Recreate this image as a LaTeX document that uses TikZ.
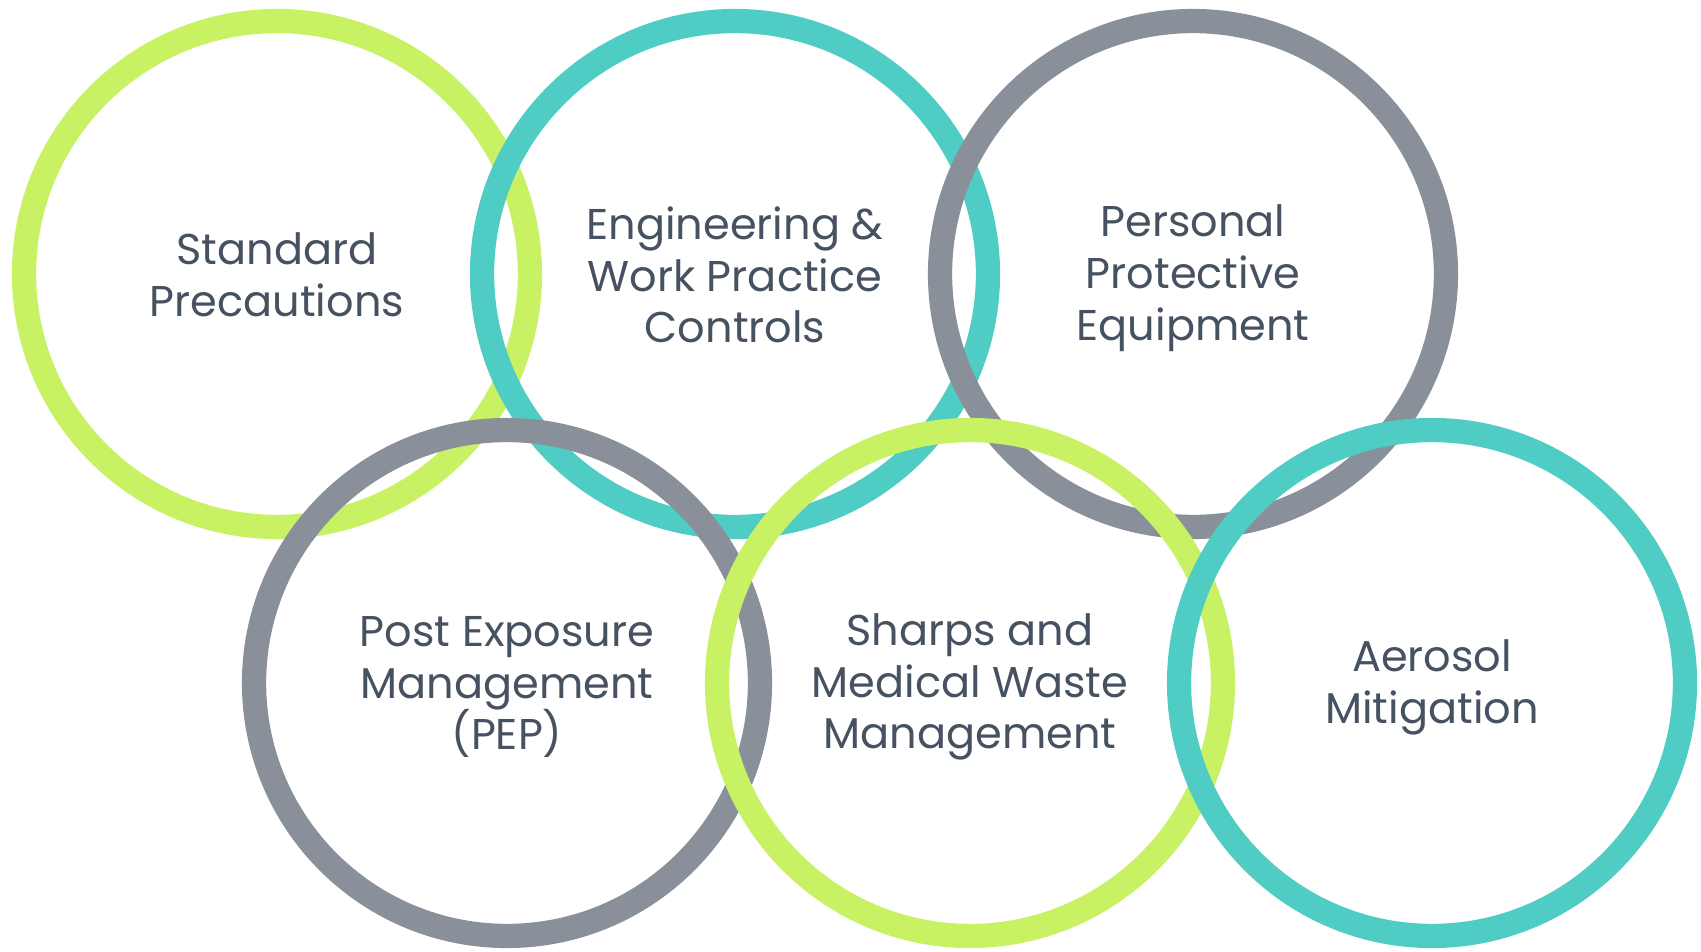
\documentclass[tikz,border=0pt]{standalone}
\usepackage{fontspec}
\setmainfont{Poppins}
\definecolor{lime}{HTML}{C8F264}
\definecolor{teal}{HTML}{4FCDC4}
\definecolor{slate}{HTML}{89909A}
\definecolor{ink}{HTML}{465161}
\newcommand{\ringfont}{\fontsize{24.5}{29.5}\selectfont}
% same height and depth for every first and last line
\newcommand{\ringstrut}{\rule[-3.75pt]{0pt}{29.5pt}}

\begin{document}
\begin{tikzpicture}[x=0.02cm, y=-0.02cm,
	ring/.style={circle, draw=#1, line width=13.8pt, minimum size=10.12cm, inner sep=0pt},
	ringtext/.style={align=center, text=ink, font=\ringfont, inner sep=0pt, yshift=-0.08cm, execute at begin node=\ringstrut, execute at end node=\ringstrut}]
	\useasboundingbox (0,0) rectangle (1701,952);
	% top row, then bottom row (later rings lie on top)
	\node[ring=lime] (std) at (277,274) {};
	\node[ringtext] (stdlbl) at (std) {Standard\\Precautions};
	\node[ring=teal] (eng) at (735,274) {};
	\node[ringtext] (englbl) at (eng) {Engineering \&\\Work Practice\\Controls};
	\node[ring=slate] (ppe) at (1193,274) {};
	\node[ringtext] (ppelbl) at (ppe) {Personal\\Protective\\Equipment};
	\node[ring=slate] (pep) at (507,683) {};
	\node[ringtext] (peplbl) at (pep) {Post Exposure\\Management\\(PEP)};
	\node[ring=lime] (sharps) at (970,683) {};
	\node[ringtext] (sharpslbl) at (sharps) {Sharps and\\Medical Waste\\Management};
	\node[ring=teal] (aero) at (1432,683) {};
	\node[ringtext] (aerolbl) at (aero) {Aerosol\\Mitigation};
\end{tikzpicture}
\end{document}
